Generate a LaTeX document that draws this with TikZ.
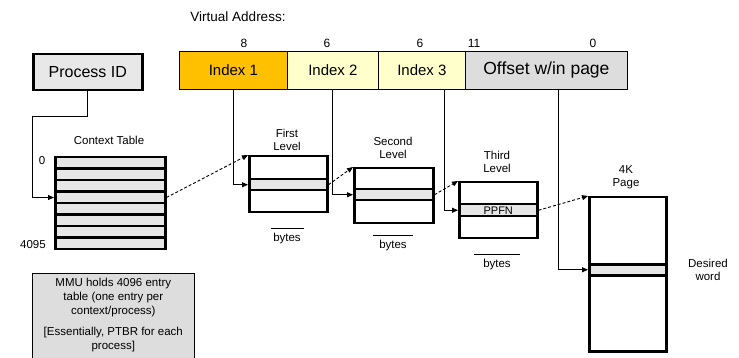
\documentclass[tikz,border=0pt]{standalone}
\usepackage{fontspec}
\setmainfont{Liberation Sans}
\usetikzlibrary{arrows.meta}
\definecolor{idxone}{HTML}{FFC000}
\definecolor{idxyel}{HTML}{FFFFCC}
\definecolor{offgray}{HTML}{DDDDDD}
\definecolor{rowgray}{HTML}{E6E6E6}
\definecolor{pidgray}{HTML}{E8E8E8}
\begin{document}
\begin{tikzpicture}[x=1pt,y=-1pt,
  field/.style={draw, line width=0.8pt, minimum height=38, inner sep=0pt, anchor=north west},
  tblbox/.style={draw, line width=2.5pt, inner sep=0pt, anchor=north west},
  lbl/.style={align=center, inner sep=0pt, font=\fontsize{11.5}{13}\selectfont},
  conn/.style={line width=0.9pt, -{Triangle[length=6pt,width=5pt]}},
  dconn/.style={conn, dash pattern=on 3pt off 2pt}]
\useasboundingbox (0,0) rectangle (739,358);

% Virtual address bar
\node[font=\fontsize{13.5}{16}\selectfont] (va) at (238,17) {Virtual Address:};
\node[field, fill=idxone, minimum width=108, font=\fontsize{15}{18}\selectfont] (i1) at (179,51) {Index 1};
\node[field, fill=idxyel, minimum width=91, font=\fontsize{15}{18}\selectfont] (i2) at (287,51) {Index 2};
\node[field, fill=idxyel, minimum width=87, font=\fontsize{15}{18}\selectfont] (i3) at (378,51) {Index 3};
\node[field, fill=offgray, minimum width=162, font=\fontsize{17.5}{20}\selectfont] (off) at (465,51) {Offset w/in page};
\foreach \xx/\tt/\nm in {244/8/n8, 327/6/n6a, 420/6/n6b, 474/11/n11, 593/0/n0}
  \node[font=\fontsize{12}{14}\selectfont, inner sep=0pt] (\nm) at (\xx,43) {\tt};

% Process ID
\node[tblbox, fill=pidgray, minimum width=109, minimum height=36, font=\fontsize{16}{19}\selectfont] (pid) at (32,53) {Process ID};

% Context table
\node[lbl] (ctl) at (109,140) {Context Table};
\foreach \i in {1,...,8}
  \node[tblbox, fill=rowgray, minimum width=110, minimum height=11.5] (ct\i) at (54,{156+(\i-1)*11.5}) {};
\node[lbl] (c0) at (42,161) {0};
\node[lbl] (c4095) at (33,245) {4095};

% First level
\node[lbl] (fll) at (287,139.5) {First\\Level};
\node[tblbox, minimum width=78, minimum height=56] (fl) at (248,155) {};
\node[tblbox, fill=rowgray, minimum width=78, minimum height=11] (fl2) at (248,178) {};
\node[lbl] (flb) at (287,236) {\rule{33pt}{0.6pt}\\bytes};

% Second level
\node[lbl] (sll) at (393,148) {Second\\Level};
\node[tblbox, minimum width=79, minimum height=55] (sl) at (353,167) {};
\node[tblbox, fill=rowgray, minimum width=79, minimum height=11] (sl2) at (353,188) {};
\node[lbl] (slb) at (393,243) {\rule{40pt}{0.6pt}\\bytes};

% Third level
\node[lbl] (tll) at (497,161.5) {Third\\Level};
\node[tblbox, minimum width=78, minimum height=56] (tl) at (458,181) {};
\node[tblbox, fill=rowgray, minimum width=78, minimum height=12, font=\fontsize{11}{13}\selectfont] (tl2) at (458,203) {PPFN};
\node[lbl] (tlb) at (497,262) {\rule{46pt}{0.6pt}\\bytes};

% 4K page
\node[lbl] (pgl) at (626,177.5) {4K\\Page};
\node[tblbox, minimum width=77, minimum height=154] (pg) at (588,196) {};
\node[tblbox, fill=rowgray, minimum width=77, minimum height=11] (pg2) at (588,263) {};
\node[lbl] (dw) at (708,270) {Desired\\word};

% MMU note
\node[draw, fill=offgray, line width=0.6pt, anchor=north west, minimum width=162, minimum height=90, inner sep=0pt] (mmu) at (32,273) {};
\node[lbl, anchor=north, font=\fontsize{11.5}{14}\selectfont] (mmut) at ([yshift=-5]mmu.north) {MMU holds 4096 entry\\table (one entry per\\context/process)\\[7pt][Essentially, PTBR for each\\process]};

% connectors
\coordinate (bendA) at (32,116);
\coordinate (i3p) at (444,89);
\coordinate (offp) at (558,89);
\draw[conn] (pid.south) |- (bendA) |- (ct4.west);
\draw[conn] (i1.south) |- (fl2.west);
\draw[conn] (i2.south) |- (sl2.west);
\draw[conn] (i3p) |- (tl2.west);
\draw[conn] (offp) |- (pg2.west);
\draw[dconn] (ct4.east) -- (fl.north west);
\draw[dconn] (fl2.east) -- (sl.north west);
\draw[dconn] (sl2.east) -- (tl.north west);
\draw[dconn] (tl2.east) -- (pg.north west);
\end{tikzpicture}
\end{document}
